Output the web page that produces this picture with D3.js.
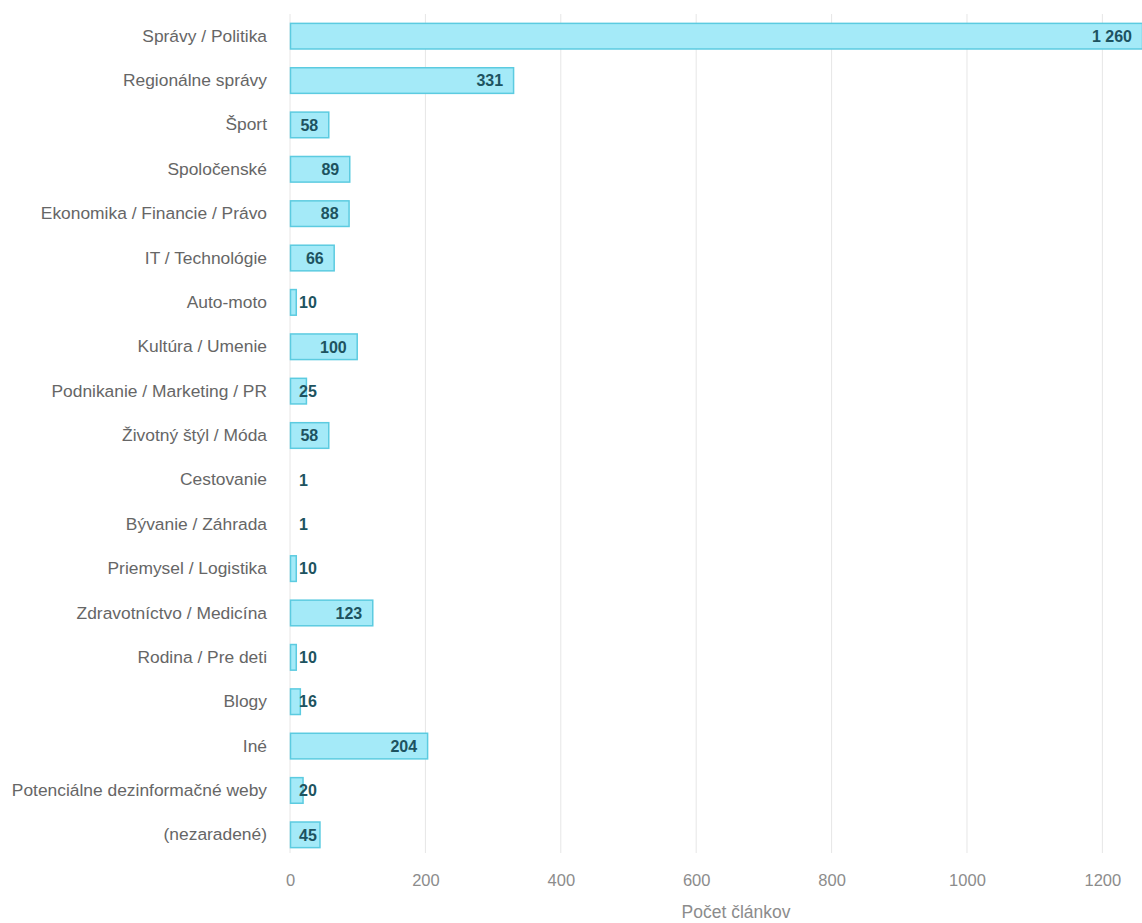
<!DOCTYPE html>
<html>
<head>
<meta charset="utf-8">
<script src="https://cdn.jsdelivr.net/npm/d3@7"></script>
<style>
  html, body { margin: 0; padding: 0; background: #fff; }
  svg { display: block; font-family: "Liberation Sans", Arial, sans-serif; }
</style>
</head>
<body>
<div id="chart"></div>
<script>
const categories = [
  "Správy / Politika",
  "Regionálne správy",
  "Šport",
  "Spoločenské",
  "Ekonomika / Financie / Právo",
  "IT / Technológie",
  "Auto-moto",
  "Kultúra / Umenie",
  "Podnikanie / Marketing / PR",
  "Životný štýl / Móda",
  "Cestovanie",
  "Bývanie / Záhrada",
  "Priemysel / Logistika",
  "Zdravotníctvo / Medicína",
  "Rodina / Pre deti",
  "Blogy",
  "Iné",
  "Potenciálne dezinformačné weby",
  "(nezaradené)"
];
const counts = [1260, 331, 58, 89, 88, 66, 10, 100, 25, 58, 1, 1, 10, 123, 10, 16, 204, 20, 45];
const xTicks = [0, 200, 400, 600, 800, 1000, 1200];
const xTitle = "Počet článkov";

const width = 1142, height = 923;
const mLeft = 290, mRight = 1143, mTop = 14, mBottom = 857;

const svg = d3.select("#chart").append("svg")
  .attr("width", width)
  .attr("height", height);

const x = d3.scaleLinear().domain([0, 1260]).range([mLeft, mRight]);
const y = d3.scaleBand().domain(categories).range([mTop, mBottom]).paddingInner(0.4).paddingOuter(0.2);

// grid
svg.append("g")
  .selectAll("line")
  .data(xTicks)
  .join("line")
  .attr("x1", d => x(d)).attr("x2", d => x(d))
  .attr("y1", mTop).attr("y2", mBottom - 4)
  .attr("stroke", "#e6e6e6")
  .attr("stroke-width", 1);

// x axis labels
const xAxis = svg.append("g")
  .attr("transform", `translate(0,${mBottom + 17})`)
  .call(d3.axisBottom(x).tickValues(xTicks).tickSize(0).tickPadding(0).tickFormat(d3.format("d")));
xAxis.select(".domain").remove();
xAxis.selectAll("text")
  .attr("fill", "#8c8c8c")
  .attr("font-size", 16.5)
  .attr("dy", "0.71em")
  .attr("font-family", "\"Liberation Sans\", Arial, sans-serif");

svg.append("text")
  .attr("x", 736)
  .attr("y", 918)
  .attr("text-anchor", "middle")
  .attr("fill", "#8c8c8c")
  .attr("font-size", 17.5)
  .text(xTitle);

// y labels
const yAxis = svg.append("g")
  .attr("transform", `translate(${mLeft - 23},0)`)
  .call(d3.axisLeft(y).tickSize(0).tickPadding(0));
yAxis.select(".domain").remove();
yAxis.selectAll("text")
  .attr("fill", "#666")
  .attr("font-size", 17.4)
  .attr("font-family", "\"Liberation Sans\", Arial, sans-serif");

// bars
const rows = categories.map((c, i) => ({ c, v: counts[i] }));

svg.append("g")
  .selectAll("rect")
  .data(rows)
  .join("rect")
  .attr("x", x(0) + 0.5)
  .attr("y", d => y(d.c) + 0.5)
  .attr("width", d => Math.max(0, x(d.v) - x(0) - 1))
  .attr("height", y.bandwidth() - 1)
  .attr("fill", "#a4eaf8")
  .attr("stroke", "#5ccbe0")
  .attr("stroke-width", 1.5);

// value labels
const labels = svg.append("g")
  .selectAll("text")
  .data(rows)
  .join("text")
  .attr("y", d => y(d.c) + y.bandwidth() / 2)
  .attr("dy", "0.36em")
  .attr("text-anchor", "end")
  .attr("fill", "#1d5360")
  .attr("font-weight", "bold")
  .attr("font-size", 16)
  .text(d => d3.format(",")(d.v).replace(/,/g, " "));

labels.each(function(d) {
  const w = this.getComputedTextLength();
  const xe = Math.min(x(d.v) - 11, width - 10);
  d3.select(this).attr("x", Math.max(xe, mLeft + 9 + w));
});
</script>
</body>
</html>
